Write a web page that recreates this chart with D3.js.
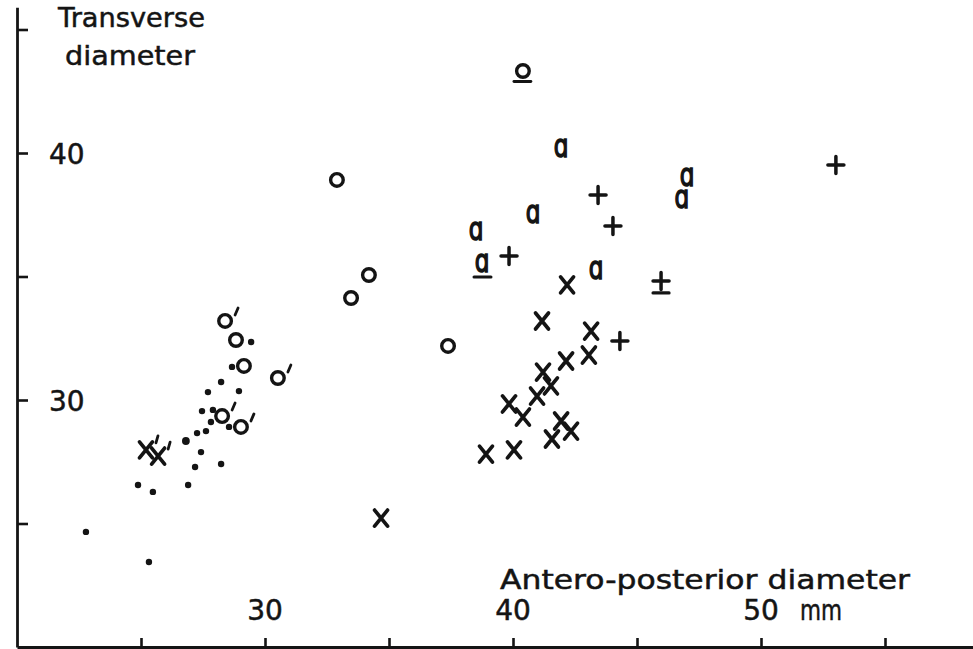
<!DOCTYPE html>
<html>
<head>
<meta charset="utf-8">
<script src="https://cdn.jsdelivr.net/npm/d3@7"></script>
<style>
  html, body { margin: 0; padding: 0; background: #fff; }
  svg { display: block; }
  text { font-family: "DejaVu Sans", sans-serif; fill: #141414; stroke: #141414; stroke-width: 0.5px; }
</style>
</head>
<body>
<svg id="chart" width="973" height="649"></svg>
<script>
// Antero-posterior (x) and transverse (y) diameters, mm
const dots = [
  [29.44, 32.35], [28.67, 31.34], [28.23, 30.73], [27.70, 30.32], [28.95, 30.36],
  [27.46, 29.55], [27.90, 29.60], [27.82, 29.11], [28.55, 28.91], [27.62, 28.74],
  [27.26, 28.66], [26.81, 28.34], [27.42, 27.89], [28.23, 27.41], [27.18, 27.29],
  [24.88, 26.56], [26.90, 26.56], [25.48, 26.28], [22.78, 24.66], [25.32, 23.44]
];
const circles = [
  [32.90, 38.91], [34.19, 35.06], [33.47, 34.13], [37.38, 32.19],
  [28.83, 32.43], [29.15, 31.38]
];
const circlesPrimed = [
  [28.39, 33.20], [30.52, 30.89], [28.27, 29.35], [29.03, 28.91]
];
const circlesUnderlined = [
  [40.40, 43.32]
];
const crosses = [
  [42.18, 34.66], [41.17, 33.20], [43.15, 32.79], [43.06, 31.82], [42.14, 31.58],
  [41.21, 31.13], [41.53, 30.57], [40.97, 30.16], [39.84, 29.84], [40.40, 29.31],
  [41.94, 29.15], [42.34, 28.74], [41.57, 28.42], [40.04, 27.98], [38.91, 27.81],
  [34.68, 25.22]
];
const crossesPrimed = [
  [25.20, 27.98], [25.69, 27.73]
];
const letterA = [
  [41.94, 40.20], [47.02, 38.99], [46.81, 38.10], [40.81, 37.53], [38.51, 36.84],
  [43.35, 35.26]
];
const letterAUnderlined = [
  [38.75, 35.51]
];
const plus = [
  [53.02, 39.51], [43.43, 38.30], [44.03, 37.04], [39.84, 35.83], [44.31, 32.39]
];
const plusUnderlined = [
  [45.97, 34.82]
];

const xTicks = [25, 30, 35, 40, 45, 50, 55];
const xTickLabels = ["30", "40", "50"];
const yTicks = [25, 30, 35, 40, 45];
const yTickLabels = ["30", "40"];

const ink = "#141414";
const svg = d3.select("#chart");

const x = d3.scaleLinear().domain([20, 58.8]).range([17, 17 + 38.8 * 24.8]);
const y = d3.scaleLinear().domain([20, 45.9]).range([647, 647 - 25.9 * 24.7]);

// axes: ticks point inward, no built-in labels
const xAxis = svg.append("g")
  .attr("transform", `translate(0,${y(20)})`)
  .call(d3.axisBottom(x).tickValues(xTicks).tickSizeInner(-9).tickSizeOuter(0).tickFormat(""));
const yAxis = svg.append("g")
  .attr("transform", `translate(${x(20)},0)`)
  .call(d3.axisLeft(y).tickValues(yTicks).tickSizeInner(-11).tickSizeOuter(0).tickFormat(""));
[xAxis, yAxis].forEach(g => {
  g.select(".domain").attr("stroke", ink).attr("stroke-width", 2.8);
  g.selectAll(".tick line").attr("stroke", ink).attr("stroke-width", 2.6);
});

// tick labels
svg.append("g").selectAll("text").data(xTickLabels).join("text")
  .attr("x", d => x(+d)).attr("y", 620)
  .attr("text-anchor", "middle").attr("font-size", 28).text(d => d);
svg.append("text").attr("x", 800).attr("y", 620).attr("font-size", 28)
  .attr("textLength", 42).attr("lengthAdjust", "spacingAndGlyphs").text("mm");
svg.append("g").selectAll("text").data(yTickLabels).join("text")
  .attr("x", 49).attr("y", d => y(+d) + 11)
  .attr("font-size", 28).text(d => d);

// axis titles
svg.append("text").attr("x", 58).attr("y", 27).attr("font-size", 27)
  .attr("textLength", 147).attr("lengthAdjust", "spacingAndGlyphs").text("Transverse");
svg.append("text").attr("x", 65).attr("y", 65).attr("font-size", 27)
  .attr("textLength", 130).attr("lengthAdjust", "spacingAndGlyphs").text("diameter");
svg.append("text").attr("x", 500).attr("y", 589).attr("font-size", 27)
  .attr("textLength", 410).attr("lengthAdjust", "spacingAndGlyphs").text("Antero-posterior diameter");

const marks = svg.append("g").attr("stroke", ink).attr("fill", "none")
  .attr("stroke-linecap", "round");

const pos = d => `translate(${x(d[0])},${y(d[1])})`;
const primePath = "M10,-6L13,-13";

// small dots
marks.append("g").selectAll("circle").data(dots).join("circle")
  .attr("cx", d => x(d[0])).attr("cy", d => y(d[1]))
  .attr("r", (d, i) => i === 11 ? 3.9 : 3.2)
  .attr("fill", ink).attr("stroke", "none");

// open circles (plain, primed, underlined)
const ring = (data, extra) => {
  const g = marks.append("g").selectAll("g").data(data).join("g").attr("transform", pos);
  g.append("circle").attr("r", 6.3).attr("stroke-width", 3.4);
  if (extra) g.append("path").attr("d", extra).attr("stroke-width", 2.8);
};
ring(circles);
ring(circlesPrimed, primePath);
ring(circlesUnderlined, "M-9,10.5L8,10.5");

// crosses
const crossPath = "M-6.5,-8L6.5,8M6.5,-8L-6.5,8";
const cross = (data, extra) => {
  const g = marks.append("g").selectAll("g").data(data).join("g").attr("transform", pos);
  g.append("path").attr("d", crossPath).attr("stroke-width", 3.7);
  if (extra) g.append("path").attr("d", extra).attr("stroke-width", 2.8);
};
cross(crosses);
cross(crossesPrimed, "M10,-7L12,-14");

// plus signs
const plusPath = "M-8,0L8,0M0,-8.5L0,8.5";
const plusMark = (data, extra) => {
  const g = marks.append("g").selectAll("g").data(data).join("g").attr("transform", pos);
  g.append("path").attr("d", plusPath).attr("stroke-width", 3.5);
  if (extra) g.append("path").attr("d", extra).attr("stroke-width", 3.2);
};
plusMark(plus);
plusMark(plusUnderlined, "M-8,12L8,12");

// letter a
const letter = (data, extra) => {
  const g = svg.append("g").selectAll("g").data(data).join("g").attr("transform", pos);
  g.append("text").attr("text-anchor", "middle")
    .attr("transform", "translate(0,8.5) scale(0.8,1.08)")
    .attr("font-size", 29).style("stroke-width", "1.4px").text("ɑ");
  if (extra) g.append("path").attr("d", extra).attr("stroke", ink)
    .attr("stroke-width", 3).attr("stroke-linecap", "round");
};
letter(letterA);
letter(letterAUnderlined, "M-8,13L9,13");
</script>
</body>
</html>
